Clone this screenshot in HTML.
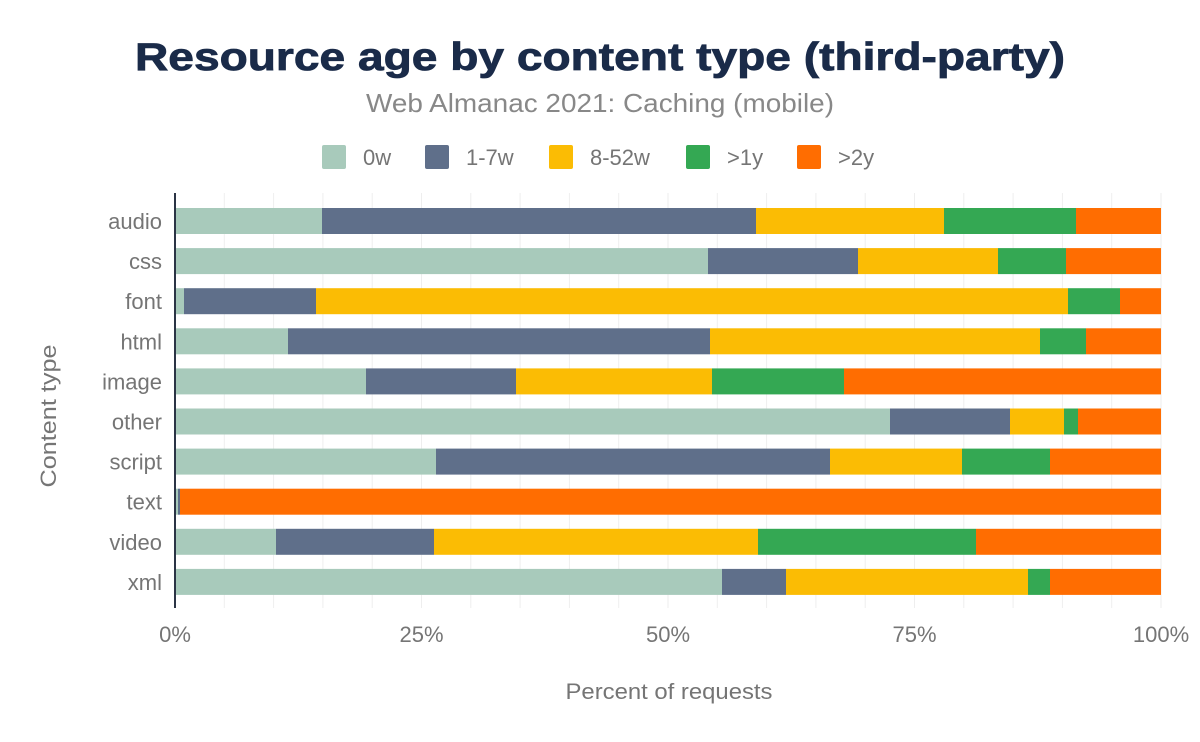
<!DOCTYPE html>
<html><head><meta charset="utf-8"><style>
html,body{margin:0;padding:0;background:#fff;}
svg{display:block;font-family:"Liberation Sans",Arial,sans-serif;}
</style></head><body>
<svg width="1200" height="742" viewBox="0 0 1200 742">
<rect width="1200" height="742" fill="#fff"/>
<text x="600" y="70" text-anchor="middle" font-size="39" font-weight="bold" fill="#1a2b49" textLength="930" lengthAdjust="spacingAndGlyphs" stroke="#1a2b49" stroke-width="0.8">Resource age by content type (third-party)</text>
<text x="600" y="112" text-anchor="middle" font-size="26" fill="#888" textLength="468" lengthAdjust="spacingAndGlyphs">Web Almanac 2021: Caching (mobile)</text>
<g font-size="22" fill="#757575">
<rect x="322" y="145" width="24" height="24" rx="2" fill="#a8cabb"/><text x="363" y="165">0w</text>
<rect x="425" y="145" width="24" height="24" rx="2" fill="#5f6f8a"/><text x="466" y="165">1-7w</text>
<rect x="549" y="145" width="24" height="24" rx="2" fill="#fbbc04"/><text x="590" y="165">8-52w</text>
<rect x="686" y="145" width="24" height="24" rx="2" fill="#34a853"/><text x="727" y="165">&gt;1y</text>
<rect x="797" y="145" width="24" height="24" rx="2" fill="#ff6d01"/><text x="838" y="165">&gt;2y</text>
</g>
<g stroke="#eee" stroke-width="1">
<line x1="224.3" y1="193" x2="224.3" y2="608"/><line x1="273.6" y1="193" x2="273.6" y2="608"/><line x1="322.9" y1="193" x2="322.9" y2="608"/><line x1="372.2" y1="193" x2="372.2" y2="608"/><line x1="421.5" y1="193" x2="421.5" y2="608"/><line x1="470.8" y1="193" x2="470.8" y2="608"/><line x1="520.1" y1="193" x2="520.1" y2="608"/><line x1="569.4" y1="193" x2="569.4" y2="608"/><line x1="618.7" y1="193" x2="618.7" y2="608"/><line x1="668" y1="193" x2="668" y2="608"/><line x1="717.3" y1="193" x2="717.3" y2="608"/><line x1="766.6" y1="193" x2="766.6" y2="608"/><line x1="815.9" y1="193" x2="815.9" y2="608"/><line x1="865.2" y1="193" x2="865.2" y2="608"/><line x1="914.5" y1="193" x2="914.5" y2="608"/><line x1="963.8" y1="193" x2="963.8" y2="608"/><line x1="1013.1" y1="193" x2="1013.1" y2="608"/><line x1="1062.4" y1="193" x2="1062.4" y2="608"/><line x1="1111.7" y1="193" x2="1111.7" y2="608"/><line x1="1161" y1="193" x2="1161" y2="608"/>
</g>
<g id="bars"></g>
<line x1="175" y1="193" x2="175" y2="608" stroke="#2b3445" stroke-width="2"/>
<g font-size="22" fill="#757575" text-anchor="end" id="ylab"></g>
<g font-size="22" fill="#757575" text-anchor="middle">
<text x="175" y="642">0%</text><text x="421.5" y="642">25%</text><text x="668" y="642">50%</text><text x="914.5" y="642">75%</text><text x="1161" y="642">100%</text>
</g>
<text x="669" y="699" text-anchor="middle" font-size="22" fill="#757575" textLength="207" lengthAdjust="spacingAndGlyphs">Percent of requests</text>
<text transform="translate(56,416) rotate(-90)" text-anchor="middle" font-size="22" fill="#757575" textLength="143" lengthAdjust="spacingAndGlyphs">Content type</text>
<script>
var d=[["audio",[175,322,756,944,1076,1161]],["css",[175,708,858,998,1066,1161]],["font",[175,184,316,1068,1120,1161]],["html",[175,288,710,1040,1086,1161]],["image",[175,366,516,712,844,1161]],["other",[175,890,1010,1064,1078,1161]],["script",[175,436,830,962,1050,1161]],["text",[175,178,180,180,180,1161]],["video",[175,276,434,758,976,1161]],["xml",[175,722,786,1028,1050,1161]]];
var c=["#a8cabb","#5f6f8a","#fbbc04","#34a853","#ff6d01"],ns="http://www.w3.org/2000/svg";
var g=document.getElementById("bars"),yl=document.getElementById("ylab");
d.forEach(function(r,i){var cy=221+i*40.1;
for(var k=0;k<5;k++){var w=r[1][k+1]-r[1][k];if(w<=0)continue;var e=document.createElementNS(ns,"rect");e.setAttribute("x",r[1][k]);e.setAttribute("y",cy-13);e.setAttribute("width",w);e.setAttribute("height",26);e.setAttribute("fill",c[k]);g.appendChild(e);}
var t=document.createElementNS(ns,"text");t.setAttribute("x",162);t.setAttribute("y",cy+8);t.textContent=r[0];yl.appendChild(t);});
</script>
</svg>
</body></html>
